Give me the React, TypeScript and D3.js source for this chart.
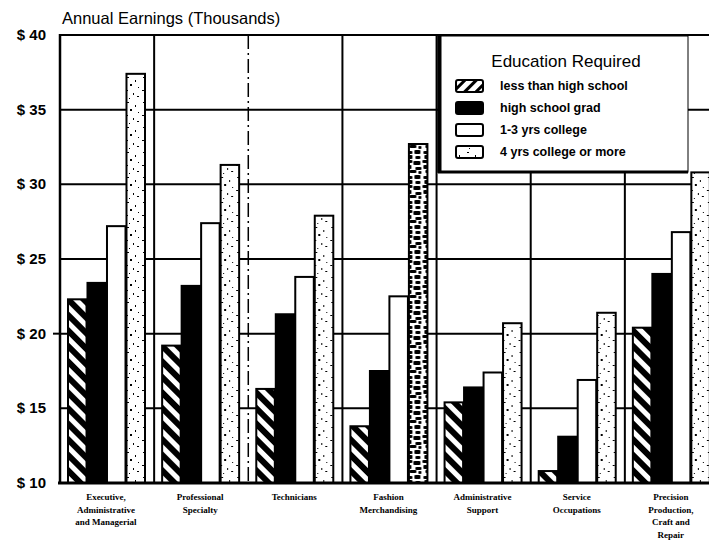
import React from "react";
import * as d3 from "d3";

// Occupation groups (x axis), each label split into its printed lines
const categories = [
  "Executive",
  "Professional",
  "Technicians",
  "Fashion",
  "AdminSupport",
  "Service",
  "Precision",
];
const categoryLabels = [
  ["Executive,", "Administrative", "and Managerial"],
  ["Professional", "Specialty"],
  ["Technicians"],
  ["Fashion", "Merchandising"],
  ["Administrative", "Support"],
  ["Service", "Occupations"],
  ["Precision", "Production,", "Craft and", "Repair"],
];

// Annual earnings, thousands of dollars, by education required
const lessThanHighSchool = [22.3, 19.2, 16.3, 13.8, 15.4, 10.8, 20.4];
const highSchoolGrad = [23.4, 23.2, 21.3, 17.5, 16.4, 13.1, 24.0];
const oneToThreeYrsCollege = [27.2, 27.4, 23.8, 22.5, 17.4, 16.9, 26.8];
const fourYrsCollege = [37.4, 31.3, 27.9, 32.7, 20.7, 21.4, 30.8];

const seriesKeys = ["lt", "hs", "some", "four"];
const seriesLabels = [
  "less than high school",
  "high school grad",
  "1-3 yrs college",
  "4 yrs college or more",
];
const seriesValues = [lessThanHighSchool, highSchoolGrad, oneToThreeYrsCollege, fourYrsCollege];

const yTicks = [10, 15, 20, 25, 30, 35, 40];
const yTickLabels = ["$ 10", "$ 15", "$ 20", "$ 25", "$ 30", "$ 35", "$ 40"];

// groups whose top-education bar is printed with the heavy speckle
const denseSpeckle = ["Fashion"];

const W = 709;
const H = 540;
const left = 60;
const top = 35;
const bottom = 483;
const plotRight = 719;

// fixed speckle tiles
const lightDots = [
  [3, 2, 2, 1], [11, 5, 1, 2], [6, 9, 2, 2], [14, 12, 1, 1], [2, 15, 2, 1],
  [9, 18, 1, 2], [13, 21, 2, 1], [5, 23, 1, 1],
];
const darkBlobs = [
  [1, 1, 5, 3], [8, 0, 6, 4], [2, 5, 4, 4], [9, 6, 5, 3], [0, 10, 6, 3],
  [7, 11, 7, 4], [1, 15, 4, 4], [9, 17, 6, 3], [3, 20, 7, 3], [12, 21, 3, 3],
];

export default function App() {
  const x = d3.scaleBand<string>().domain(categories).range([left, plotRight]).padding(0);
  const xs = d3.scaleBand<string>().domain(seriesKeys).range([8, 85]).paddingInner(0.05);
  const y = d3.scaleLinear().domain([10, 40]).range([bottom, top]);

  const fillFor = (si: number, cat: string) => {
    if (si === 0) return "url(#hatchBar)";
    if (si === 1) return "#000";
    if (si === 2) return "#fff";
    return denseSpeckle.includes(cat) ? "url(#speckleDense)" : "url(#speckle)";
  };

  const legendX = 438;
  const legendY = 36;
  const legendW = 250;
  const legendH = 136;
  const rowY = (i: number) => 86 + i * 22;

  return (
    <svg
      width={W}
      height={H}
      style={{ position: "absolute", left: 0, top: 0, background: "#fff" }}
      fontFamily="'Liberation Sans', Arial, sans-serif"
    >
      <defs>
        <pattern id="hatchBar" width={11} height={11} patternUnits="userSpaceOnUse" patternTransform="rotate(-45)">
          <rect width={11} height={11} fill="#fff" />
          <rect width={6} height={11} fill="#000" />
        </pattern>
        <pattern id="hatchKey" width={8} height={8} patternUnits="userSpaceOnUse" patternTransform="rotate(45)">
          <rect width={8} height={8} fill="#fff" />
          <rect width={3} height={8} fill="#000" />
        </pattern>
        <pattern id="speckle" width={16} height={25} patternUnits="userSpaceOnUse">
          <rect width={16} height={25} fill="#fff" />
          {lightDots.map((d, i) => (
            <rect key={i} x={d[0]} y={d[1]} width={d[2]} height={d[3]} fill="#000" />
          ))}
        </pattern>
        <pattern id="speckleDense" width={16} height={25} patternUnits="userSpaceOnUse">
          <rect width={16} height={25} fill="#fff" />
          {darkBlobs.map((d, i) => (
            <rect key={i} x={d[0]} y={d[1]} width={d[2]} height={d[3]} rx={1} fill="#000" />
          ))}
        </pattern>
        <clipPath id="page">
          <rect width={W} height={H} />
        </clipPath>
      </defs>

      <g clipPath="url(#page)">
        {/* horizontal gridlines */}
        {yTicks.slice(1).map((t) => (
          <line key={t} x1={left} x2={plotRight} y1={y(t)} y2={y(t)} stroke="#000" strokeWidth={2} />
        ))}
        {/* category separators */}
        {categories.slice(1).map((c, i) => (
          <line
            key={c}
            x1={x(c)!}
            x2={x(c)!}
            y1={top}
            y2={bottom}
            stroke="#000"
            strokeWidth={i === 1 ? 1.5 : 2}
            strokeDasharray={i === 1 ? "14 4 2 4" : undefined}
          />
        ))}

        {/* bars */}
        {categories.map((c, ci) => (
          <g key={c} transform={`translate(${x(c)},0)`}>
            {seriesKeys.map((k, si) => {
              const v = seriesValues[si][ci];
              return (
                <rect
                  key={k}
                  x={xs(k)!}
                  y={y(v)}
                  width={xs.bandwidth()}
                  height={bottom - y(v)}
                  fill={fillFor(si, c)}
                  stroke="#000"
                  strokeWidth={2}
                />
              );
            })}
          </g>
        ))}

        {/* frame */}
        <line x1={left} x2={left} y1={top - 1} y2={bottom + 1} stroke="#000" strokeWidth={2.5} />
        <line x1={left} x2={plotRight} y1={top} y2={top} stroke="#000" strokeWidth={2} />
        <line x1={left - 2} x2={plotRight} y1={bottom} y2={bottom} stroke="#000" strokeWidth={3} />
        <line x1={left - 7} x2={left} y1={y(20)} y2={y(20)} stroke="#000" strokeWidth={2} />

        {/* legend */}
        <rect x={legendX} y={legendY} width={legendW} height={legendH} fill="#fff" stroke="#000" strokeWidth={1} />
        <line x1={legendX + 1.5} x2={legendX + 1.5} y1={legendY} y2={legendY + legendH + 1} stroke="#000" strokeWidth={4} />
        <line x1={legendX} x2={legendX + legendW} y1={legendY + legendH} y2={legendY + legendH} stroke="#000" strokeWidth={3} />
        <text x={566} y={67} textAnchor="middle" fontSize={17}>
          Education Required
        </text>
        {seriesKeys.map((k, i) => (
          <g key={k}>
            <rect
              x={456}
              y={rowY(i) - 6}
              width={27}
              height={12}
              rx={2}
              fill={i === 0 ? "url(#hatchKey)" : i === 1 ? "#000" : i === 2 ? "#fff" : "url(#speckle)"}
              stroke="#000"
              strokeWidth={2}
            />
            <text x={500} y={rowY(i) + 4} fontSize={12.5} fontWeight="bold">
              {seriesLabels[i]}
            </text>
          </g>
        ))}

        {/* y axis labels */}
        {yTicks.map((t, i) => (
          <text key={t} x={46} y={y(t) + 5} textAnchor="end" fontSize={15} fontWeight="bold">
            {yTickLabels[i]}
          </text>
        ))}

        {/* title */}
        <text x={62} y={24} fontSize={16.5}>
          Annual Earnings (Thousands)
        </text>

        {/* category labels */}
        {categories.map((c, ci) => (
          <text
            key={c}
            x={x(c)! + 46}
            textAnchor="middle"
            fontFamily="'Liberation Serif', 'Times New Roman', serif"
            fontWeight="bold"
            fontSize={9}
          >
            {categoryLabels[ci].map((line, li) => (
              <tspan key={li} x={x(c)! + 46} y={500 + li * 12.5}>
                {line}
              </tspan>
            ))}
          </text>
        ))}
      </g>
    </svg>
  );
}
